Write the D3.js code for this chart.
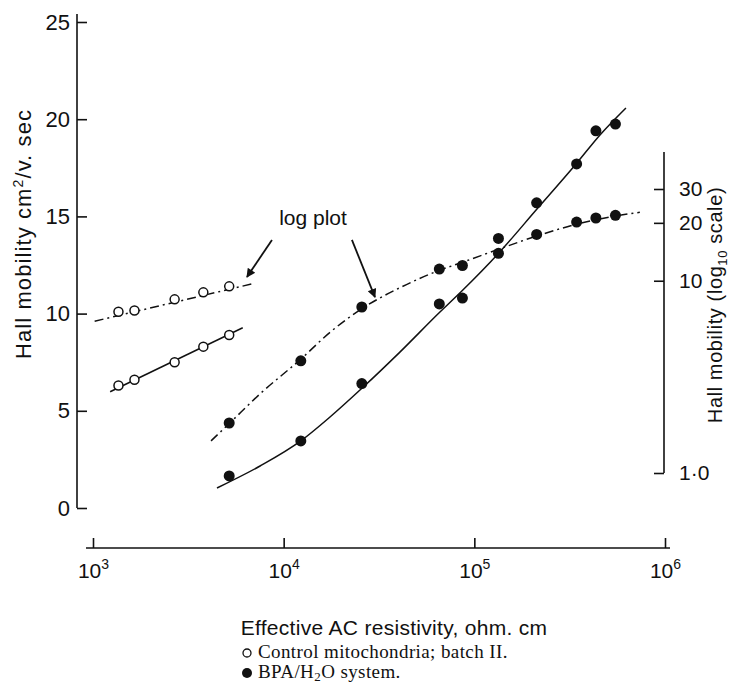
<!DOCTYPE html>
<html>
<head>
<meta charset="utf-8">
<script src="https://cdn.jsdelivr.net/npm/d3@7"></script>
<style>
  body { margin: 0; background: #fff; }
  svg { display: block; }
  text { font-family: "Liberation Sans", Arial, sans-serif; fill: #111; }
  .serif { font-family: "Liberation Serif", "DejaVu Serif", serif; }
</style>
</head>
<body>
<svg id="chart" width="732" height="683"></svg>
<script>
// control mitochondria (open circles)
var ctrlX = [1360, 1650, 2680, 3790, 5180];
var ctrlLinear = [6.3, 6.6, 7.5, 8.3, 8.9];
var ctrlLog = [6.9, 7.0, 8.0, 8.7, 9.35];
var ctrlLinFitX = [1230, 6100];
var ctrlLinFitY = [5.98, 9.27];
var ctrlLogFitX = [1020, 6880];
var ctrlLogFitY = [6.16, 9.65];

// BPA/H2O system (filled circles)
var bpaX = [5180, 12300, 25700, 65500, 86600, 133800, 212200, 343900, 434100, 549600];
var bpaLinear = [1.65, 3.45, 6.4, 10.5, 10.8, 13.1, 15.7, 17.7, 19.4, 19.75];
var bpaLog = [1.82, 3.83, 7.3, 11.5, 12.0, 16.6, 17.4, 20.2, 21.2, 21.9];
var bpaLinFitX = [4470, 7520, 12300, 17500, 25800, 40700, 65200, 86000, 134500, 213000, 345000, 456000, 624000];
var bpaLinFitY = [1.03, 2.16, 3.45, 4.68, 6.17, 8.02, 10.03, 11.16, 13.12, 15.38, 17.75, 19.19, 20.58];
var bpaLogFitX = [4160, 5160, 7520, 12300, 17500, 25800, 40700, 65200, 87100, 134500, 213000, 345000, 546000, 738000];
var bpaLogFitY = [1.47, 1.80, 2.58, 3.91, 5.39, 7.17, 9.20, 11.3, 12.5, 14.6, 17.1, 19.7, 21.7, 22.7];

// axis ticks
var xTicks = [1e3, 1e4, 1e5, 1e6];
var xTickExp = ["3", "4", "5", "6"];
var yTicks = [0, 5, 10, 15, 20, 25];
var yLogTicks = [1, 10, 20, 30];
var yLogLabels = ["1·0", "10", "20", "30"];

var svg = d3.select("#chart");

var x = d3.scaleLog().domain([1e3, 1e6]).range([93, 665]);
var y = d3.scaleLinear().domain([0, 25]).range([508, 22]);
var yLog = d3.scaleLog().domain([1, 30]).range([473, 189]);

var dashDot = "9,4,2,4";

// left axis
var yAxis = svg.append("g")
    .attr("transform", "translate(77,0)")
    .call(d3.axisLeft(y).tickValues(yTicks).tickSize(-10).tickPadding(7).tickSizeOuter(0))
yAxis.select(".domain").remove()
yAxis.append("line")
    .attr("x1", 0).attr("x2", 0)
    .attr("y1", y(25) - 8).attr("y2", y(0))
    .attr("stroke", "#111").attr("stroke-width", 1.6)
yAxis.selectAll(".tick line").attr("stroke", "#111").attr("stroke-width", 1.6)
yAxis.selectAll(".tick text").attr("font-size", 22).style("font-family", "Liberation Sans, Arial, sans-serif").attr("fill", "#111")

// right axis (log)
var yAxisR = svg.append("g")
    .attr("transform", "translate(664,0)")
    .call(d3.axisRight(yLog).tickValues(yLogTicks).tickSize(-10).tickPadding(15).tickSizeOuter(0)
        .tickFormat((d, i) => yLogLabels[i]))
yAxisR.select(".domain").remove()
yAxisR.append("line")
    .attr("x1", 0).attr("x2", 0)
    .attr("y1", yLog(30) - 37).attr("y2", yLog(1))
    .attr("stroke", "#111").attr("stroke-width", 1.6)
yAxisR.selectAll(".tick line").attr("stroke", "#111").attr("stroke-width", 1.6)
yAxisR.selectAll(".tick text").attr("font-size", 21).style("font-family", "Liberation Sans, Arial, sans-serif").attr("fill", "#111")

// x axis
var xAxis = svg.append("g")
    .attr("transform", "translate(0,548)")
    .call(d3.axisBottom(x).tickValues(xTicks).tickSize(-10).tickSizeOuter(0).tickFormat(""))
xAxis.select(".domain").remove()
xAxis.append("line")
    .attr("x1", x(1e3) - 7).attr("x2", x(1e6) + 5)
    .attr("y1", 0).attr("y2", 0)
    .attr("stroke", "#111").attr("stroke-width", 1.6)
xAxis.selectAll(".tick line").attr("stroke", "#111").attr("stroke-width", 1.6)
xAxis.selectAll(".tick").append("text")
    .attr("y", 30)
    .attr("text-anchor", "middle")
    .attr("font-size", 21)
    .attr("fill", "#111")
    .each(function (d, i) {
        var t = d3.select(this)
        t.append("tspan").text("10")
        t.append("tspan").attr("dy", -9).attr("font-size", 14).text(xTickExp[i])
    })

// axis titles
svg.append("text")
    .attr("transform", "translate(31,234) rotate(-90)")
    .attr("text-anchor", "middle")
    .attr("font-size", 22)
    .attr("letter-spacing", 1.1)
    .each(function () {
        var t = d3.select(this)
        t.append("tspan").text("Hall mobility cm")
        t.append("tspan").attr("dy", -8).attr("font-size", 14).text("2")
        t.append("tspan").attr("dy", 8).text("/v. sec")
    })

svg.append("text")
    .attr("transform", "translate(722,305) rotate(-90)")
    .attr("text-anchor", "middle")
    .attr("font-size", 20)
    .attr("letter-spacing", 0.6)
    .each(function () {
        var t = d3.select(this)
        t.append("tspan").text("Hall mobility (log")
        t.append("tspan").attr("dy", 5).attr("font-size", 13).text("10")
        t.append("tspan").attr("dy", -5).text(" scale)")
    })

svg.append("text")
    .attr("x", 394).attr("y", 635)
    .attr("text-anchor", "middle")
    .attr("font-size", 21)
    .attr("letter-spacing", 0.3)
    .text("Effective AC resistivity, ohm. cm")

// fitted curves
var lineLin = d3.line().x(d => x(d[0])).y(d => y(d[1])).curve(d3.curveMonotoneX)
var lineLog = d3.line().x(d => x(d[0])).y(d => yLog(d[1])).curve(d3.curveMonotoneX)

var curves = [
    { path: lineLin(d3.zip(ctrlLinFitX, ctrlLinFitY)), dash: null },
    { path: lineLog(d3.zip(ctrlLogFitX, ctrlLogFitY)), dash: dashDot },
    { path: lineLin(d3.zip(bpaLinFitX, bpaLinFitY)), dash: null },
    { path: lineLog(d3.zip(bpaLogFitX, bpaLogFitY)), dash: dashDot }
]
svg.selectAll(".fit")
    .data(curves)
    .enter().append("path")
    .attr("class", "fit")
    .attr("d", d => d.path)
    .attr("fill", "none")
    .attr("stroke", "#111")
    .attr("stroke-width", 1.5)
    .attr("stroke-dasharray", d => d.dash)

// points
svg.selectAll(".ctrl-lin")
    .data(d3.zip(ctrlX, ctrlLinear))
    .enter().append("circle")
    .attr("cx", d => x(d[0])).attr("cy", d => y(d[1])).attr("r", 4.5)
    .attr("fill", "#fff").attr("stroke", "#111").attr("stroke-width", 1.5)
svg.selectAll(".ctrl-log")
    .data(d3.zip(ctrlX, ctrlLog))
    .enter().append("circle")
    .attr("cx", d => x(d[0])).attr("cy", d => yLog(d[1])).attr("r", 4.5)
    .attr("fill", "#fff").attr("stroke", "#111").attr("stroke-width", 1.5)
svg.selectAll(".bpa-lin")
    .data(d3.zip(bpaX, bpaLinear))
    .enter().append("circle")
    .attr("cx", d => x(d[0])).attr("cy", d => y(d[1])).attr("r", 5.5)
    .attr("fill", "#111")
svg.selectAll(".bpa-log")
    .data(d3.zip(bpaX, bpaLog))
    .enter().append("circle")
    .attr("cx", d => x(d[0])).attr("cy", d => yLog(d[1])).attr("r", 5.5)
    .attr("fill", "#111")

// "log plot" annotation
var arrowFrom = [[8683, 13.79], [22800, 13.79]]
var arrowTo = [[6420, 11.88], [30120, 10.85]]

svg.append("defs").append("marker")
    .attr("id", "head")
    .attr("viewBox", "0 0 10 10")
    .attr("refX", 9).attr("refY", 5)
    .attr("markerWidth", 12).attr("markerHeight", 9)
    .attr("markerUnits", "userSpaceOnUse")
    .attr("orient", "auto")
    .append("path")
    .attr("d", "M0,0L10,5L0,10Z")
    .attr("fill", "#111")

svg.selectAll(".arrow")
    .data(d3.zip(arrowFrom, arrowTo))
    .enter().append("line")
    .attr("x1", d => x(d[0][0])).attr("y1", d => y(d[0][1]))
    .attr("x2", d => x(d[1][0])).attr("y2", d => y(d[1][1]))
    .attr("stroke", "#111").attr("stroke-width", 1.8)
    .attr("marker-end", "url(#head)")

svg.append("text")
    .attr("x", x(14250)).attr("y", y(14.56))
    .attr("text-anchor", "middle")
    .attr("font-size", 21)
    .text("log plot")

// legend
var legend = svg.append("g").attr("transform", "translate(247,0)")
legend.append("circle").attr("cx", 0).attr("cy", 653).attr("r", 4)
    .attr("fill", "#fff").attr("stroke", "#111").attr("stroke-width", 1.3)
legend.append("circle").attr("cx", 0).attr("cy", 673).attr("r", 5)
    .attr("fill", "#111")
legend.append("text")
    .attr("class", "serif")
    .attr("x", 11).attr("y", 658)
    .attr("font-size", 19)
    .attr("letter-spacing", 0.4)
    .text("Control mitochondria; batch II.")
legend.append("text")
    .attr("class", "serif")
    .attr("x", 11).attr("y", 678)
    .attr("font-size", 19)
    .attr("letter-spacing", 0.4)
    .each(function () {
        var t = d3.select(this)
        t.append("tspan").text("BPA/H")
        t.append("tspan").attr("dy", 3).attr("font-size", 13).text("2")
        t.append("tspan").attr("dy", -3).text("O system.")
    })
</script>
</body>
</html>
